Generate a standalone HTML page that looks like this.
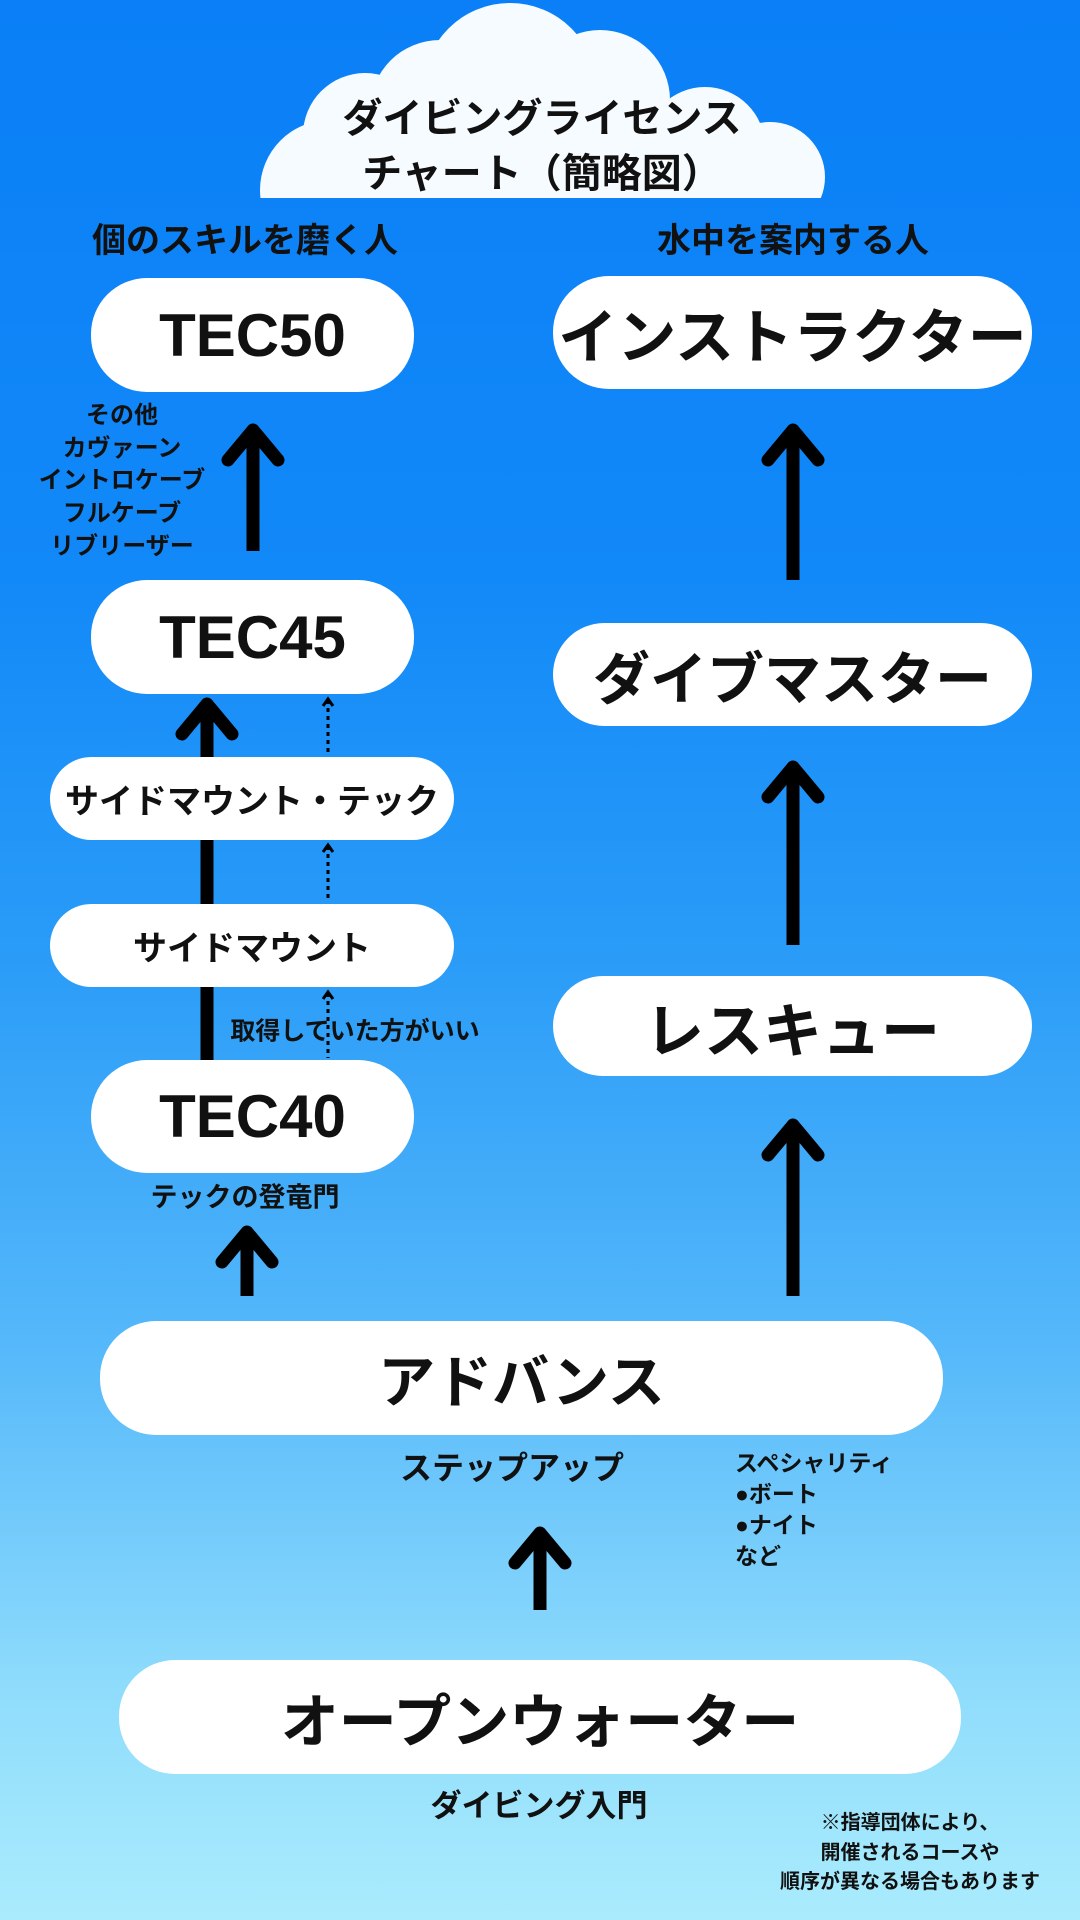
<!DOCTYPE html>
<html><head><meta charset="utf-8"><style>
*{margin:0;padding:0;box-sizing:border-box}
body{width:1080px;height:1920px;overflow:hidden;position:relative;
background:linear-gradient(180deg,#0a7ff7 0%,#1289f8 30%,#2a9cf8 50%,#55b8fa 70%,#8fdcfc 88%,#aaecfd 100%);
font-family:"Liberation Sans","Noto Sans CJK JP",sans-serif;font-weight:bold;color:#111}
.b{position:absolute;background:#fff;border-radius:56px;display:flex;align-items:center;justify-content:center;white-space:nowrap}
.t{position:absolute;white-space:nowrap;text-align:center;transform:translate(-50%,-50%);line-height:1}
svg{position:absolute;left:0;top:0}
</style></head><body>
<svg width="1080" height="1920">
<defs><clipPath id="c"><rect x="0" y="0" width="1080" height="198"/></clipPath></defs>
<g fill="#f6fbff" clip-path="url(#c)">
<circle cx="330" cy="190" r="70"/>
<circle cx="365" cy="135" r="62"/>
<circle cx="440" cy="110" r="70"/>
<circle cx="510" cy="90" r="87"/>
<circle cx="600" cy="100" r="70"/>
<circle cx="705" cy="147" r="60"/>
<circle cx="770" cy="177" r="55"/>
<rect x="320" y="140" width="470" height="58"/>
</g>
<g stroke="#000" stroke-width="13" fill="none" stroke-linecap="round" stroke-linejoin="round">
<line x1="253" y1="430" x2="253" y2="551" stroke-linecap="butt"/>
<polyline points="228,460 253,430 278,460"/>
<line x1="793" y1="430" x2="793" y2="580" stroke-linecap="butt"/>
<polyline points="768,460 793,430 818,460"/>
<line x1="207" y1="704" x2="207" y2="1062" stroke-linecap="butt"/>
<polyline points="182,734 207,704 232,734"/>
<line x1="793" y1="767" x2="793" y2="945" stroke-linecap="butt"/>
<polyline points="768,797 793,767 818,797"/>
<line x1="793" y1="1125" x2="793" y2="1296" stroke-linecap="butt"/>
<polyline points="768,1155 793,1125 818,1155"/>
<line x1="247" y1="1232" x2="247" y2="1296" stroke-linecap="butt"/>
<polyline points="222,1262 247,1232 272,1262"/>
<line x1="540" y1="1533" x2="540" y2="1610" stroke-linecap="butt"/>
<polyline points="515,1563 540,1533 565,1563"/>
</g>
<g stroke="#000" stroke-width="3" fill="none">
<line x1="328" y1="700" x2="328" y2="753" stroke-dasharray="4,4"/>
<polyline points="323,706 328,699 333,706"/>
<line x1="328" y1="846" x2="328" y2="900" stroke-dasharray="4,4"/>
<polyline points="323,852 328,845 333,852"/>
<line x1="328" y1="993" x2="328" y2="1058" stroke-dasharray="4,4"/>
<polyline points="323,999 328,992 333,999"/>
</g>
</svg>
<div class="t" style="left:542px;top:119px;font-size:40px">ダイビングライセンス</div>
<div class="t" style="left:542px;top:174px;font-size:40px">チャート（簡略図）</div>
<div class="t" style="left:245px;top:241px;font-size:34px">個のスキルを磨く人</div>
<div class="t" style="left:793px;top:241px;font-size:34px">水中を案内する人</div>

<div class="b" style="left:91px;top:278px;width:323px;height:114px;font-size:60px">TEC50</div>
<div class="b" style="left:553px;top:276px;width:479px;height:113px;font-size:59px">インストラクター</div>

<div class="t" style="left:122px;top:416px;font-size:24px">その他</div>
<div class="t" style="left:122px;top:449px;font-size:24px">カヴァーン</div>
<div class="t" style="left:122px;top:481px;font-size:24px">イントロケーブ</div>
<div class="t" style="left:122px;top:514px;font-size:24px">フルケーブ</div>
<div class="t" style="left:122px;top:547px;font-size:24px">リブリーザー</div>

<div class="b" style="left:91px;top:580px;width:323px;height:114px;font-size:60px">TEC45</div>
<div class="b" style="left:553px;top:623px;width:479px;height:103px;font-size:57px">ダイブマスター</div>

<div class="b" style="left:50px;top:757px;width:404px;height:83px;font-size:34px;border-radius:42px">サイドマウント・テック</div>
<div class="b" style="left:50px;top:904px;width:404px;height:83px;font-size:34px;border-radius:42px">サイドマウント</div>
<div class="t" style="left:355px;top:1032px;font-size:25px">取得していた方がいい</div>

<div class="b" style="left:91px;top:1060px;width:323px;height:113px;font-size:60px">TEC40</div>
<div class="t" style="left:245px;top:1198px;font-size:27px">テックの登竜門</div>

<div class="b" style="left:553px;top:976px;width:479px;height:100px;font-size:59px">レスキュー</div>

<div class="b" style="left:100px;top:1321px;width:843px;height:114px;font-size:57px">アドバンス</div>
<div class="t" style="left:512px;top:1468px;font-size:32px">ステップアップ</div>
<div style="position:absolute;left:735px;top:1448px;font-size:23px;line-height:31px">スペシャリティ<br>●ボート<br>●ナイト<br>など</div>

<div class="b" style="left:119px;top:1660px;width:842px;height:114px;font-size:58px">オープンウォーター</div>
<div class="t" style="left:539px;top:1806px;font-size:31px">ダイビング入門</div>
<div class="t" style="left:910px;top:1823px;font-size:20px">※指導団体により、</div>
<div class="t" style="left:910px;top:1853px;font-size:20px">開催されるコースや</div>
<div class="t" style="left:910px;top:1882px;font-size:20px">順序が異なる場合もあります</div>
</body></html>
